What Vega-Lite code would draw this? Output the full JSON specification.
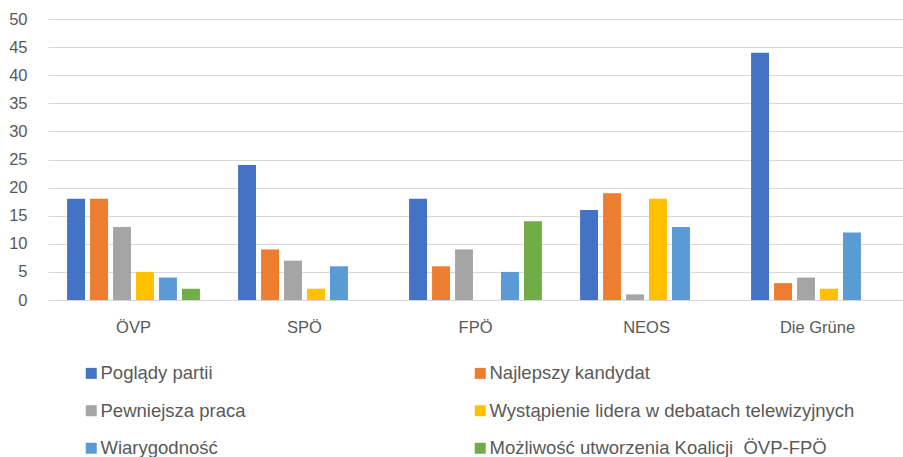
{
  "$schema": "https://vega.github.io/schema/vega-lite/v6.json",
  "autosize": "none",
  "width": 855,
  "height": 281,
  "padding": {"left": 48, "top": 19, "right": 0, "bottom": 157},
  "background": "white",
  "config": {
    "font": "Liberation Sans",
    "view": {"stroke": null}
  },
  "data": {
    "values": [
      {"partia": "ÖVP", "czynnik": "Poglądy partii", "wartosc": 18},
      {"partia": "ÖVP", "czynnik": "Najlepszy kandydat", "wartosc": 18},
      {"partia": "ÖVP", "czynnik": "Pewniejsza praca", "wartosc": 13},
      {"partia": "ÖVP", "czynnik": "Wystąpienie lidera w debatach telewizyjnych", "wartosc": 5},
      {"partia": "ÖVP", "czynnik": "Wiarygodność", "wartosc": 4},
      {"partia": "ÖVP", "czynnik": "Możliwość utworzenia Koalicji\u00a0 ÖVP-FPÖ", "wartosc": 2},
      {"partia": "SPÖ", "czynnik": "Poglądy partii", "wartosc": 24},
      {"partia": "SPÖ", "czynnik": "Najlepszy kandydat", "wartosc": 9},
      {"partia": "SPÖ", "czynnik": "Pewniejsza praca", "wartosc": 7},
      {"partia": "SPÖ", "czynnik": "Wystąpienie lidera w debatach telewizyjnych", "wartosc": 2},
      {"partia": "SPÖ", "czynnik": "Wiarygodność", "wartosc": 6},
      {"partia": "SPÖ", "czynnik": "Możliwość utworzenia Koalicji\u00a0 ÖVP-FPÖ", "wartosc": 0},
      {"partia": "FPÖ", "czynnik": "Poglądy partii", "wartosc": 18},
      {"partia": "FPÖ", "czynnik": "Najlepszy kandydat", "wartosc": 6},
      {"partia": "FPÖ", "czynnik": "Pewniejsza praca", "wartosc": 9},
      {"partia": "FPÖ", "czynnik": "Wystąpienie lidera w debatach telewizyjnych", "wartosc": 0},
      {"partia": "FPÖ", "czynnik": "Wiarygodność", "wartosc": 5},
      {"partia": "FPÖ", "czynnik": "Możliwość utworzenia Koalicji\u00a0 ÖVP-FPÖ", "wartosc": 14},
      {"partia": "NEOS", "czynnik": "Poglądy partii", "wartosc": 16},
      {"partia": "NEOS", "czynnik": "Najlepszy kandydat", "wartosc": 19},
      {"partia": "NEOS", "czynnik": "Pewniejsza praca", "wartosc": 1},
      {"partia": "NEOS", "czynnik": "Wystąpienie lidera w debatach telewizyjnych", "wartosc": 18},
      {"partia": "NEOS", "czynnik": "Wiarygodność", "wartosc": 13},
      {"partia": "NEOS", "czynnik": "Możliwość utworzenia Koalicji\u00a0 ÖVP-FPÖ", "wartosc": 0},
      {"partia": "Die Grüne", "czynnik": "Poglądy partii", "wartosc": 44},
      {"partia": "Die Grüne", "czynnik": "Najlepszy kandydat", "wartosc": 3},
      {"partia": "Die Grüne", "czynnik": "Pewniejsza praca", "wartosc": 4},
      {"partia": "Die Grüne", "czynnik": "Wystąpienie lidera w debatach telewizyjnych", "wartosc": 2},
      {"partia": "Die Grüne", "czynnik": "Wiarygodność", "wartosc": 12},
      {"partia": "Die Grüne", "czynnik": "Możliwość utworzenia Koalicji\u00a0 ÖVP-FPÖ", "wartosc": 0}
    ]
  },
  "mark": {"type": "bar"},
  "encoding": {
    "x": {
      "field": "partia",
      "type": "nominal",
      "sort": ["ÖVP", "SPÖ", "FPÖ", "NEOS", "Die Grüne"],
      "scale": {"paddingInner": 0, "paddingOuter": 0},
      "axis": {
        "title": null,
        "labelAngle": 0,
        "labelFontSize": 16.5,
        "labelColor": "#595959",
        "labelPadding": 19,
        "ticks": false,
        "domain": true,
        "domainColor": "#d9d9d9",
        "grid": false
      }
    },
    "xOffset": {
      "field": "czynnik",
      "type": "nominal",
      "sort": ["Poglądy partii", "Najlepszy kandydat", "Pewniejsza praca", "Wystąpienie lidera w debatach telewizyjnych", "Wiarygodność", "Możliwość utworzenia Koalicji\u00a0 ÖVP-FPÖ"],
      "scale": {"paddingInner": 0.22, "paddingOuter": 0.83}
    },
    "y": {
      "field": "wartosc",
      "type": "quantitative",
      "scale": {"domain": [0, 50], "nice": false},
      "axis": {
        "title": null,
        "values": [0, 5, 10, 15, 20, 25, 30, 35, 40, 45, 50],
        "labelFontSize": 16.5,
        "labelColor": "#595959",
        "labelPadding": 21,
        "ticks": false,
        "domain": false,
        "gridColor": "#d9d9d9",
        "gridWidth": 1
      }
    },
    "color": {
      "field": "czynnik",
      "type": "nominal",
      "sort": ["Poglądy partii", "Najlepszy kandydat", "Pewniejsza praca", "Wystąpienie lidera w debatach telewizyjnych", "Wiarygodność", "Możliwość utworzenia Koalicji\u00a0 ÖVP-FPÖ"],
      "scale": {"range": ["#4472C4", "#ED7D31", "#A5A5A5", "#FFC000", "#5B9BD5", "#70AD47"]},
      "legend": {
        "title": null,
        "orient": "none",
        "direction": "horizontal",
        "legendX": 34,
        "legendY": 345,
        "columns": 2,
        "gridAlign": "all",
        "columnPadding": 5,
        "rowPadding": 18.5,
        "symbolType": "square",
        "symbolSize": 121,
        "symbolStrokeWidth": 0,
        "labelFontSize": 18.5,
        "labelColor": "#595959",
        "labelOffset": 0,
        "labelLimit": 500
      }
    }
  }
}
